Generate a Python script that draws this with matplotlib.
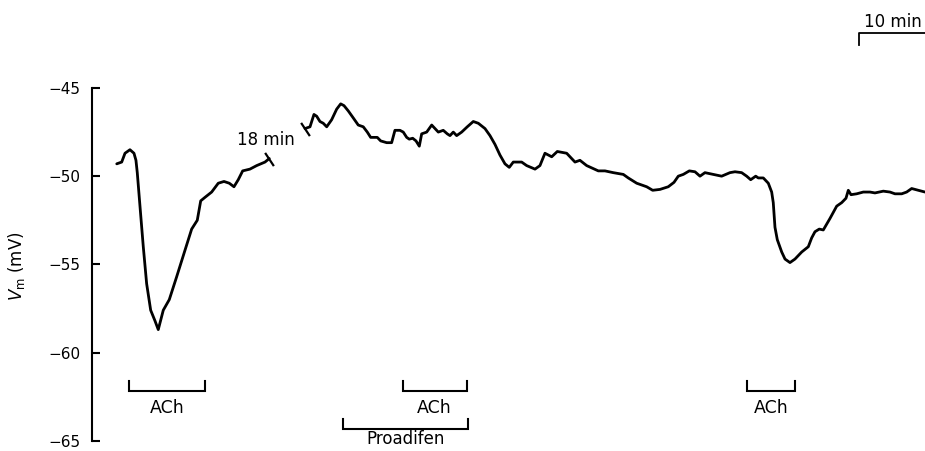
import matplotlib
matplotlib.use("Agg")
import matplotlib.pyplot as plt
from matplotlib.path import Path

plt.rcParams['font.family'] = ['DejaVu Sans']
plt.rcParams['mathtext.fontset'] = 'dejavusans'

# ---- data (time in min, membrane potential in mV) ----
t_before = [3.8, 4.55, 5.05, 5.8, 6.41, 6.71, 6.91, 7.32, 7.82, 8.33, 8.94, 9.59,
            10.09, 10.85, 11.76, 12.88, 14.14, 15.15, 16.0, 16.52, 17.17, 18.18,
            19.18, 20.05, 20.85, 21.56, 22.21, 22.88, 23.98, 25.0, 26.26, 26.91]
v_before = [-49.3, -49.2, -48.7, -48.5, -48.7, -49.1, -49.8, -51.7, -54.0, -56.1,
            -57.6, -58.2, -58.7, -57.6, -57.0, -55.7, -54.2, -53.0, -52.5, -51.4,
            -51.2, -50.9, -50.4, -50.3, -50.4, -50.6, -50.2, -49.7, -49.6, -49.4,
            -49.2, -49.0]

t_after = [32.32, 33.08, 33.68, 34.09, 34.59, 35.09, 35.61, 36.36, 37.12, 37.73,
           38.23, 38.88, 39.64, 40.39, 41.15, 41.76, 42.27, 43.27, 43.79, 44.70,
           45.45, 45.95, 46.71, 47.21, 47.73, 48.12, 48.64, 49.14, 49.64, 50.0,
           50.76, 51.52, 52.02, 52.52, 53.27, 53.88, 54.29, 54.79, 55.30, 56.06,
           56.91, 57.82, 58.58, 59.59, 60.35, 61.11, 61.86, 62.62, 63.27, 63.88,
           65.15, 65.91, 67.17, 67.92, 68.68, 69.70, 70.55, 71.97, 73.23, 73.98,
           75.0, 76.76, 77.77, 79.03, 80.55, 81.30, 82.58, 84.09, 85.0, 86.11,
           87.36, 88.23, 88.88, 89.64, 90.55, 91.41, 92.17, 92.92, 94.18, 95.45,
           96.71, 97.47, 98.48, 99.24, 99.85, 100.61, 101.0, 101.76, 102.52, 103.03,
           103.27, 103.53, 103.88, 104.55, 105.05, 105.80, 106.56, 107.58, 108.58,
           109.09, 109.59, 110.24, 110.85, 111.86, 112.88, 113.64, 114.29, 114.64,
           115.05, 115.91, 116.91, 117.92, 118.68, 119.94, 120.95, 121.71, 122.73,
           123.48, 124.24, 125.24, 126.26]
v_after = [-47.3, -47.2, -46.5, -46.6, -46.9, -47.0, -47.2, -46.8, -46.2, -45.9,
           -46.0, -46.3, -46.7, -47.1, -47.2, -47.5, -47.8, -47.8, -48.0, -48.1,
           -48.1, -47.4, -47.4, -47.5, -47.8, -47.9, -47.85, -48.0, -48.3, -47.6,
           -47.5, -47.1, -47.3, -47.5, -47.4, -47.6, -47.7, -47.5, -47.7, -47.5,
           -47.2, -46.9, -47.0, -47.3, -47.7, -48.2, -48.8, -49.3, -49.5, -49.2,
           -49.2, -49.4, -49.6, -49.4, -48.7, -48.9, -48.6, -48.7, -49.2, -49.1,
           -49.4, -49.7, -49.7, -49.8, -49.9, -50.1, -50.4, -50.6, -50.8, -50.75,
           -50.6, -50.35, -50.0, -49.9, -49.7, -49.75, -50.0, -49.8, -49.9, -50.0,
           -49.8, -49.75, -49.8, -50.0, -50.2, -50.0, -50.1, -50.1, -50.4, -50.9,
           -51.5, -52.9, -53.6, -54.3, -54.7, -54.9, -54.7, -54.3, -54.0, -53.5,
           -53.15, -53.0, -53.05, -52.4, -51.7, -51.5, -51.25, -50.8, -51.05, -51.0,
           -50.9, -50.9, -50.95, -50.85, -50.9, -51.0, -51.0, -50.9, -50.7, -50.8,
           -50.9]

yticks = [-45, -50, -55, -60, -65]

# application bars: (label, start min, end min)
ach_bars = [("ACh", 5.70, 17.17), ("ACh", 47.12, 56.82), ("ACh", 99.24, 106.56)]
proadifen_bar = ("Proadifen", 38.12, 57.06)
gap_label = "18 min"
scale_label = "10 min"
scale_len = 10.0

# ---- figure ----
fig = plt.figure(figsize=(9.25, 4.51), dpi=100)
ax = fig.add_axes([0.0991, 0.02284, 0.9009, 0.78204])
ax.set_xlim(0, 126.26)
ax.set_ylim(-65, -45)

lw = 2.0
ax.plot(t_before, v_before, color='black', lw=lw, solid_joinstyle='round',
        solid_capstyle='round', clip_on=False)
ax.plot(t_after, v_after, color='black', lw=lw, solid_joinstyle='round',
        solid_capstyle='round', clip_on=False)

# break marks
brk = Path([(-0.55, 0.83), (0.55, -0.83)], [Path.MOVETO, Path.LINETO])
ax.plot([t_before[-1], t_after[0]], [v_before[-1], v_after[0]], ls='none',
        marker=brk, markersize=9.5, markeredgewidth=1.6, color='black', clip_on=False)
ax.text(22.05, -47.95, gap_label, fontsize=12, ha='left', va='center')

# spines / ticks
for s in ['top', 'right', 'bottom']:
    ax.spines[s].set_visible(False)
ax.spines['left'].set_linewidth(1.5)
ax.set_xticks([])
ax.set_yticks(yticks)
ax.set_yticklabels(['\u2212' + str(abs(v)) for v in yticks])
ax.tick_params(axis='y', direction='in', length=5.8, width=1.5, pad=8.2, labelsize=11)
ax.set_ylabel(r'$V_{\mathrm{m}}$ (mV)', fontsize=12)
ax.yaxis.set_label_coords(-0.078, 0.495)

# bracket helper
def bracket(x0, x1, ytop, ybot, label, xlab, ylab, fs):
    ax.plot([x0, x0, x1, x1], [ytop, ybot, ybot, ytop], color='black', lw=1.5,
            clip_on=False, solid_joinstyle='miter')
    ax.text(xlab, ylab, label, fontsize=fs, ha='center', va='center')

for lab, a, b in ach_bars:
    bracket(a, b, -61.62, -62.16, lab, (a + b) / 2, -63.13, 12.5)
bracket(proadifen_bar[1], proadifen_bar[2], -63.77, -64.34, proadifen_bar[0],
        47.5, -64.9, 12)

# time scale bar
sb_x1 = 126.26
sb_x0 = sb_x1 - scale_len
ax.plot([sb_x0, sb_x0, sb_x1], [-42.56, -41.9, -41.9], color='black', lw=1.3,
        clip_on=False)
ax.text(sb_x0 + 0.75, -41.24, scale_label, fontsize=12, ha='left', va='center')

fig.savefig('out.png', dpi=100)
